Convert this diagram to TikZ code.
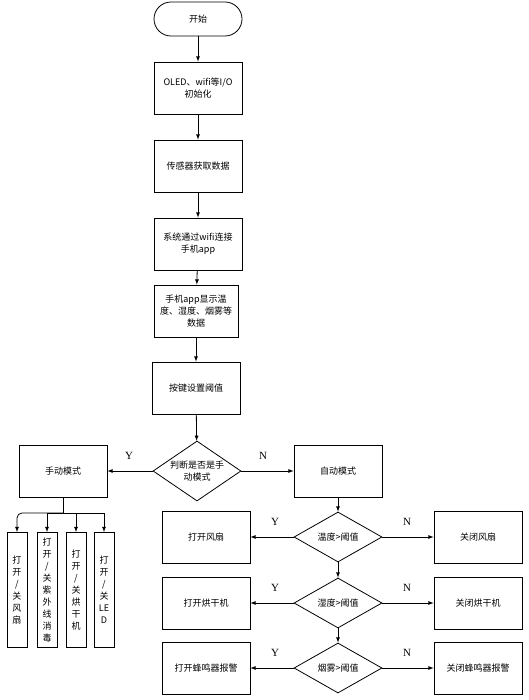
\documentclass[tikz,border=0pt]{standalone}
\usepackage{fontspec}
\setmainfont{Liberation Serif}
\newfontfamily\cjk{Noto Sans CJK SC}
\usepackage{tikz}
\usetikzlibrary{shapes.geometric}

\tikzset{
  base/.style={draw, line width=0.8pt, font=\cjk\fontsize{9}{12}\selectfont, align=center},
  proc/.style={base, minimum width=88pt, minimum height=52pt},
  term/.style={base, minimum width=88pt, minimum height=34pt, rounded corners=17pt},
  dec/.style={base, diamond, shape aspect=2, minimum width=88pt, minimum height=50pt, inner sep=0pt},
  slim/.style={base, minimum width=20pt, minimum height=115pt, inner sep=1pt},
  yn/.style={font=\fontsize{11}{13}\selectfont},
}

\begin{document}
\begin{tikzpicture}[x=1pt,y=-1pt,>=latex,line width=0.8pt]
\useasboundingbox (0,0) rectangle (528,700);
% main column
\node[term] (start) at (198,19) {开始};
\node[proc] (init) at (198,88) {OLED、wifi等I/O\\初始化};
\node[proc] (sense) at (198,166) {传感器获取数据};
\node[proc] (wifi) at (198,244) {系统通过wifi连接\\手机app};
\node[proc, minimum width=84pt] (show) at (196,311) {手机app显示温\\度、湿度、烟雾等\\数据};
\node[proc] (key) at (196,388) {按键设置阈值};
\node[dec, minimum height=60pt] (mode) at (197,471) {};
\node[font=\cjk\fontsize{9}{12}\selectfont, align=center] (modetxt) at (mode) {判断是否是手\\动模式};
\draw[->] (start) -- (init);
\draw[->] (init) -- (sense);
\draw[->] (sense) -- (wifi);
\draw[->] (wifi) -- (show);
\draw[->] (show) -- (key);
\draw[->] (key) -- (mode);
% manual branch
\node[proc] (man) at (63,471) {手动模式};
\draw[->] (mode) -- (man);
\node[yn] at (129,456) {Y};
\node[slim] (fan) at (17,590) {打\\开\\/\\关\\风\\扇};
\node[slim] (uv) at (47,590) {打\\开\\/\\关\\紫\\外\\线\\消\\毒};
\node[slim] (dry) at (76,590) {打\\开\\/\\关\\烘\\干\\机};
\node[slim] (led) at (104,590) {打\\开\\/\\关\\LE\\D};
\draw (man.south) -- (63,513) coordinate (br);
\draw[->,rounded corners=5pt] (br) -| (fan.north);
\draw[->] (br) -| (uv.north);
\draw[->] (br) -| (dry.north);
\draw[->] (br) -| (led.north);
% auto branch
\node[proc] (auto) at (338,471) {自动模式};
\draw[->] (mode) -- (auto);
\node[yn] at (263,456) {N};
\node[dec] (temp) at (338,537) {温度>阈值};
\node[dec] (hum) at (338,603) {湿度>阈值};
\node[dec] (smoke) at (338,668) {烟雾>阈值};
\draw[->] (auto) -- (temp);
\draw[->] (temp) -- (hum);
\draw[->] (hum) -- (smoke);
\node[proc] (fanon) at (206,537) {打开风扇};
\node[proc] (dryon) at (206,603) {打开烘干机};
\node[proc] (buzon) at (206,668) {打开蜂鸣器报警};
\node[proc] (fanoff) at (478,537) {关闭风扇};
\node[proc] (dryoff) at (478,603) {关闭烘干机};
\node[proc] (buzoff) at (478,668) {关闭蜂鸣器报警};
\draw[->] (temp) -- (fanon);
\draw[->] (hum) -- (dryon);
\draw[->] (smoke) -- (buzon);
\draw[->] (temp) -- (fanoff);
\draw[->] (hum) -- (dryoff);
\draw[->] (smoke) -- (buzoff);
\node[yn] at (275,522) {Y};
\node[yn] at (275,588) {Y};
\node[yn] at (275,653) {Y};
\node[yn] at (407,522) {N};
\node[yn] at (407,588) {N};
\node[yn] at (407,653) {N};
\end{tikzpicture}
\end{document}
